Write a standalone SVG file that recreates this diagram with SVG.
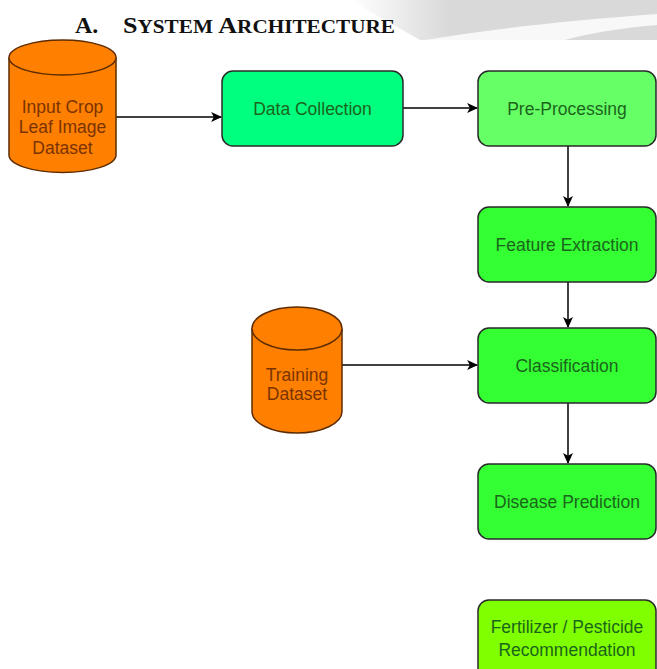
<svg xmlns="http://www.w3.org/2000/svg" width="657" height="669" viewBox="0 0 657 669">
  <defs>
    <linearGradient id="bgfade" x1="350" y1="0" x2="450" y2="0" gradientUnits="userSpaceOnUse">
      <stop offset="0" stop-color="#d9d9d9" stop-opacity="0"/>
      <stop offset="1" stop-color="#d9d9d9" stop-opacity="1"/>
    </linearGradient>
    <marker id="arrow" viewBox="0 0 10 10" refX="9" refY="5" markerWidth="11" markerHeight="11" markerUnits="userSpaceOnUse" orient="auto">
      <path d="M0,0.5 L10,5 L0,9.5 L2.5,5 Z" fill="#000"/>
    </marker>
    <style>
      .title { font-family: "Liberation Serif", "Times New Roman", serif; font-weight: bold; fill: #111; }
      .box { stroke: #2a2a2a; stroke-width: 1.5; }
      .boxtext { font-family: "Liberation Sans", Arial, sans-serif; font-size: 17.5px; fill: #1b651b; text-anchor: middle; }
      .cyl { fill: #ff8000; stroke: #5e2c00; stroke-width: 1.5; }
      .cyltext { font-family: "Liberation Sans", Arial, sans-serif; font-size: 17.5px; fill: #7a3300; text-anchor: middle; }
      .conn { stroke: #000; stroke-width: 1.5; fill: none; marker-end: url(#arrow); }
    </style>
  </defs>
  <rect x="0" y="0" width="657" height="669" fill="#fff"/>
  <!-- scanned page background at top right -->
  <path d="M350,0 L657,0 L657,40 L420,40 Z" fill="url(#bgfade)"/>
  <path d="M425,40 Q520,24 657,14 L657,25 Q600,30 565,40 Z" fill="#f8f8f8"/>

  <g id="title">
    <text class="title" x="75" y="33" font-size="24">A.</text>
    <text class="title" x="123" y="33" textLength="272" lengthAdjust="spacingAndGlyphs"><tspan font-size="24">S</tspan><tspan font-size="19.5">YSTEM </tspan><tspan font-size="24">A</tspan><tspan font-size="19.5">RCHITECTURE</tspan></text>
  </g>

  <g id="connectors">
    <line class="conn" x1="116" y1="117" x2="221" y2="117"/>
    <line class="conn" x1="403" y1="108" x2="477" y2="108"/>
    <line class="conn" x1="568" y1="146" x2="568" y2="206"/>
    <line class="conn" x1="568" y1="282" x2="568" y2="327"/>
    <line class="conn" x1="342" y1="365" x2="477" y2="365"/>
    <line class="conn" x1="568" y1="403" x2="568" y2="463"/>
  </g>

  <g id="input-dataset">
    <path class="cyl" d="M9,57.5 A53.5,17.5 0 0 1 116,57.5 V155 A53.5,17.5 0 0 1 9,155 Z"/>
    <path class="cyl" d="M9,57.5 A53.5,17.5 0 0 0 116,57.5" fill="none"/>
    <text class="cyltext" x="62.5" y="113">Input Crop</text>
    <text class="cyltext" x="62.5" y="133">Leaf Image</text>
    <text class="cyltext" x="62.5" y="154">Dataset</text>
  </g>

  <g id="data-collection">
    <rect class="box" x="222" y="71" width="181" height="75" rx="11" fill="#00ff7f"/>
    <text class="boxtext" x="312.5" y="114.5">Data Collection</text>
  </g>

  <g id="pre-processing">
    <rect class="box" x="478" y="71" width="178" height="75" rx="11" fill="#66ff66"/>
    <text class="boxtext" x="567" y="114.5">Pre-Processing</text>
  </g>

  <g id="feature-extraction">
    <rect class="box" x="478" y="207" width="178" height="75" rx="11" fill="#33ff33"/>
    <text class="boxtext" x="567" y="250.5">Feature Extraction</text>
  </g>

  <g id="training-dataset">
    <path class="cyl" d="M252,328.5 A45,21.5 0 0 1 342,328.5 V411.5 A45,21.5 0 0 1 252,411.5 Z"/>
    <path class="cyl" d="M252,328.5 A45,21.5 0 0 0 342,328.5" fill="none"/>
    <text class="cyltext" x="297" y="381">Training</text>
    <text class="cyltext" x="297" y="400">Dataset</text>
  </g>

  <g id="classification">
    <rect class="box" x="478" y="328" width="178" height="75" rx="11" fill="#33ff33"/>
    <text class="boxtext" x="567" y="371.5">Classification</text>
  </g>

  <g id="disease-prediction">
    <rect class="box" x="478" y="464" width="178" height="75" rx="11" fill="#33ff33"/>
    <text class="boxtext" x="567" y="507.5">Disease Prediction</text>
  </g>

  <g id="recommendation">
    <rect class="box" x="478" y="600" width="178" height="90" rx="11" fill="#80ff00"/>
    <text class="boxtext" x="567" y="633">Fertilizer / Pesticide</text>
    <text class="boxtext" x="567" y="656">Recommendation</text>
  </g>
</svg>
